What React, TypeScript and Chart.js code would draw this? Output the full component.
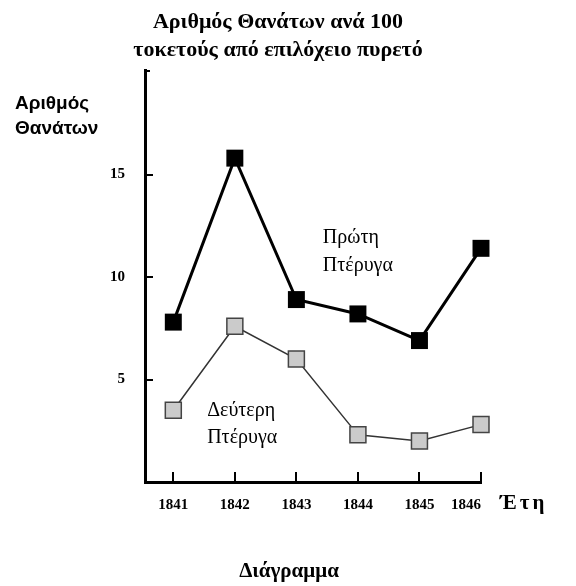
import React, { useEffect, useRef } from "react";
import { Chart, registerables } from "chart.js";

Chart.register(...registerables);

const years = [1841, 1842, 1843, 1844, 1845, 1846];
const firstWard = [7.8, 15.8, 8.9, 8.2, 6.9, 11.4];
const secondWard = [3.5, 7.6, 6.0, 2.3, 2.0, 2.8];
const yTickValues = [5, 10, 15];
const titleLines = ["Αριθμός Θανάτων ανά 100", "τοκετούς από επιλόχειο πυρετό"];
const captionText = "Διάγραμμα";
const yAxisTitle = ["Αριθμός", "Θανάτων"];
const xAxisTitle = "Έτη";
const firstLabel = ["Πρώτη", "Πτέρυγα"];
const secondLabel = ["Δεύτερη", "Πτέρυγα"];

const SERIF = "'Liberation Serif', 'Times New Roman', serif";
const SANS = "'Liberation Sans', Arial, sans-serif";

const decorPlugin = {
  id: "decor",
  afterDraw(chart: any) {
    const ctx = chart.ctx;
    const xs = chart.scales.x;
    const ys = chart.scales.y;
    const area = chart.chartArea;
    ctx.save();
    ctx.strokeStyle = "#000";
    ctx.lineWidth = 2;
    // inward y ticks
    yTickValues.forEach((v) => {
      const py = Math.round(ys.getPixelForValue(v));
      ctx.beginPath();
      ctx.moveTo(area.left, py);
      ctx.lineTo(area.left + 8, py);
      ctx.stroke();
    });
    // top hook
    ctx.beginPath();
    ctx.moveTo(area.left, area.top + 1);
    ctx.lineTo(area.left + 5, area.top + 1);
    ctx.stroke();
    // inward x ticks
    years.forEach((v) => {
      const px = Math.round(xs.getPixelForValue(v));
      ctx.beginPath();
      ctx.moveTo(px, area.bottom);
      ctx.lineTo(px, area.bottom - 10);
      ctx.stroke();
    });

    ctx.fillStyle = "#000";
    // y axis title
    ctx.font = "bold 19px " + SANS;
    ctx.textAlign = "left";
    ctx.textBaseline = "alphabetic";
    ctx.fillText(yAxisTitle[0], 15, 109);
    ctx.fillText(yAxisTitle[1], 15, 134);

    // x axis title
    ctx.font = "bold 21px " + SERIF;
    (ctx as any).letterSpacing = "3px";
    ctx.fillText(xAxisTitle, 500, 509);
    (ctx as any).letterSpacing = "0px";

    // caption
    ctx.font = "bold 21px " + SERIF;
    ctx.textAlign = "center";
    ctx.fillText(captionText, 289, 577);

    // series annotations
    ctx.textAlign = "left";
    ctx.font = "20px " + SERIF;
    const fx = xs.getPixelForValue(1843.43);
    const fy = ys.getPixelForValue(11.66);
    ctx.fillText(firstLabel[0], fx, fy);
    ctx.fillText(firstLabel[1], fx, fy + 28);
    const sx = xs.getPixelForValue(1841.55);
    const sy = ys.getPixelForValue(3.2);
    ctx.fillText(secondLabel[0], sx, sy);
    ctx.fillText(secondLabel[1], sx, sy + 27);
    ctx.restore();
  },
};

export default function App() {
  const ref = useRef<HTMLCanvasElement | null>(null);
  useEffect(() => {
    if (!ref.current) return;
    const lastYear = years[years.length - 1];
    const chart = new Chart(ref.current, {
      type: "line",
      data: {
        datasets: [
          {
            label: "Πρώτη Πτέρυγα",
            data: years.map((y, i) => ({ x: y, y: firstWard[i] })),
            borderColor: "#000",
            borderWidth: 3,
            pointStyle: "rect",
            pointRadius: 12,
            pointBackgroundColor: "#000",
            pointBorderColor: "#000",
            pointBorderWidth: 0,
            tension: 0,
            clip: false,
          },
          {
            label: "Δεύτερη Πτέρυγα",
            data: years.map((y, i) => ({ x: y, y: secondWard[i] })),
            borderColor: "#333",
            borderWidth: 1.5,
            pointStyle: "rect",
            pointRadius: 11.3,
            pointBackgroundColor: "#cbcbcb",
            pointBorderColor: "#444",
            pointBorderWidth: 1.5,
            tension: 0,
            clip: false,
          },
        ],
      },
      options: {
        animation: false,
        responsive: false,
        devicePixelRatio: 1,
        layout: { padding: { left: 75, right: 95, top: 0, bottom: 0 } },
        plugins: {
          legend: { display: false },
          tooltip: { enabled: false },
          title: {
            display: true,
            fullSize: true,
            text: titleLines,
            color: "#000",
            font: { family: SERIF, size: 22, weight: "bold", lineHeight: "28px" },
            padding: { top: 8, bottom: 6 },
          },
        },
        scales: {
          x: {
            type: "linear",
            position: "bottom",
            min: 1840.54,
            max: 1846,
            grid: { display: false, drawTicks: false },
            border: { display: true, color: "#000", width: 3 },
            ticks: {
              color: "#000",
              padding: 14,
              font: { family: SERIF, size: 15, weight: "bold" },
              callback: (v: any) => (v === lastYear ? String(v) + "        " : String(v)),
            },
            afterBuildTicks: (scale: any) => {
              scale.ticks = years.map((v) => ({ value: v }));
            },
            afterFit: (scale: any) => {
              scale.height = 104;
            },
          },
          y: {
            type: "linear",
            position: "left",
            min: 0,
            max: 20.1,
            grid: { display: false, drawTicks: false },
            border: { display: true, color: "#000", width: 3 },
            ticks: {
              color: "#000",
              padding: 20,
              font: { family: SERIF, size: 15, weight: "bold" },
            },
            afterBuildTicks: (scale: any) => {
              scale.ticks = yTickValues.map((v) => ({ value: v }));
            },
            afterFit: (scale: any) => {
              scale.width = 70;
            },
          },
        },
      },
      plugins: [decorPlugin],
    });
    return () => chart.destroy();
  }, []);
  return (
    <div style={{ position: "absolute", left: 0, top: 0, width: 576, height: 586, background: "#fff" }}>
      <canvas ref={ref} width={576} height={586} style={{ display: "block" }} />
    </div>
  );
}
